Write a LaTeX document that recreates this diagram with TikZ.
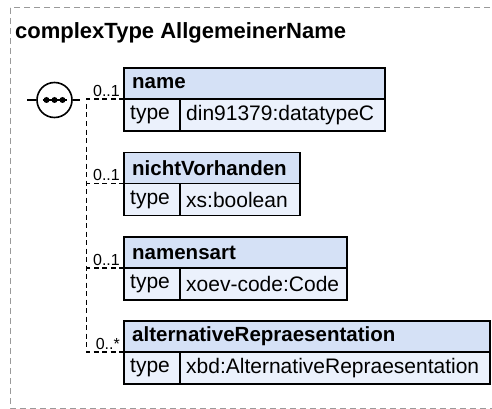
\documentclass[tikz,border=0pt]{standalone}
\usepackage{fontspec}
\setmainfont{Liberation Sans}
\definecolor{hdrfill}{HTML}{D5E1F6}
\definecolor{rowfill}{HTML}{EBF1FC}
\definecolor{outergray}{HTML}{9A9A9A}
\tikzset{
  outerframe/.style={draw=outergray, line width=1pt, dash pattern=on 6pt off 4pt},
  conn/.style={draw=black, line width=1.3pt, dash pattern=on 5pt off 3.5pt},
  cell/.style={draw=black, line width=1.7pt, anchor=north west, inner sep=0pt, outer sep=0pt},
  hdrcell/.style={cell, fill=hdrfill, minimum height=31pt},
  rowcell/.style={cell, fill=rowfill, minimum height=32pt},
  hdrtext/.style={anchor=west, inner sep=0pt, font=\bfseries\fontsize{20.5}{20.5}\selectfont},
  rowtext/.style={anchor=west, inner sep=0pt, font=\fontsize{21}{21}\selectfont},
  multtext/.style={anchor=base east, inner sep=0pt, font=\fontsize{16}{16}\selectfont},
}
\begin{document}
\begin{tikzpicture}[x=1pt,y=-1pt]
\useasboundingbox (0,0) rectangle (492,409);
\clip (0,0) rectangle (492,409);
\draw[outerframe] (10,8) rectangle (520,408);
\node[anchor=base west, inner sep=0pt, font=\bfseries\fontsize{22}{22}\selectfont] (title) at (15,39) {complexType AllgemeinerName};

% sequence compositor
\node[circle, draw=black, line width=1.6pt, fill=white, minimum size=35pt, inner sep=0pt] (seq) at (54.5,100) {};
\draw[line width=1.5pt] (seq.center) ++(-12,0) -- ++(24,0);
\fill (seq.center) circle (3);
\fill (seq.center) ++(-8,0) circle (3);
\fill (seq.center) ++(8,0) circle (3);
\draw[line width=1.3pt] (seq.west) -- ++(-9,0);
\draw[line width=1.3pt] (seq.east) -- ++(7,0);

% element boxes
\node[hdrcell, minimum width=261pt] (h1) at (124,68) {};
\node[rowcell, minimum width=56pt] (t1) at (h1.south west) {};
\node[rowcell, minimum width=205pt] (v1) at (t1.north east) {};
\node[hdrtext] (h1txt) at ([xshift=8pt]h1.west) {name};
\node[rowtext] (t1txt) at ([xshift=6pt]t1.west) {type};
\node[rowtext] (v1txt) at ([xshift=6pt]v1.west) {din91379:datatypeC};

\node[hdrcell, minimum width=176pt] (h2) at (124,152.5) {};
\node[rowcell, minimum width=56pt] (t2) at (h2.south west) {};
\node[rowcell, minimum width=120pt] (v2) at (t2.north east) {};
\node[hdrtext] (h2txt) at ([xshift=8pt]h2.west) {nichtVorhanden};
\node[rowtext] (t2txt) at ([xshift=6pt]t2.west) {type};
\node[rowtext] (v2txt) at ([xshift=6pt]v2.west) {xs:boolean};

\node[hdrcell, minimum width=223pt] (h3) at (124,237) {};
\node[rowcell, minimum width=56pt] (t3) at (h3.south west) {};
\node[rowcell, minimum width=167pt] (v3) at (t3.north east) {};
\node[hdrtext] (h3txt) at ([xshift=8pt]h3.west) {namensart};
\node[rowtext] (t3txt) at ([xshift=6pt]t3.west) {type};
\node[rowtext] (v3txt) at ([xshift=6pt]v3.west) {xoev-code:Code};

\node[hdrcell, minimum width=366pt] (h4) at (124,321) {};
\node[rowcell, minimum width=56pt] (t4) at (h4.south west) {};
\node[rowcell, minimum width=310pt] (v4) at (t4.north east) {};
\node[hdrtext] (h4txt) at ([xshift=8pt]h4.west) {alternativeRepraesentation};
\node[rowtext] (t4txt) at ([xshift=6pt]t4.west) {type};
\node[rowtext] (v4txt) at ([xshift=6pt]v4.west) {xbd:AlternativeRepraesentation};

% connectors
\coordinate (bk) at (86.5,99);
\draw[conn] (h1.south west) -- (bk) -- (bk |- h4.south west) -- (h4.south west);
\draw[conn] (h2.south west) -- (bk |- h2.south west);
\draw[conn] (h3.south west) -- (bk |- h3.south west);

% multiplicities
\node[multtext] (m1) at ([xshift=-4pt,yshift=3pt]h1.south west) {0..1};
\node[multtext] (m2) at ([xshift=-4pt,yshift=3pt]h2.south west) {0..1};
\node[multtext] (m3) at ([xshift=-4pt,yshift=3pt]h3.south west) {0..1};
\node[multtext] (m4) at ([xshift=-4pt,yshift=3pt]h4.south west) {0..*};
\end{tikzpicture}
\end{document}
